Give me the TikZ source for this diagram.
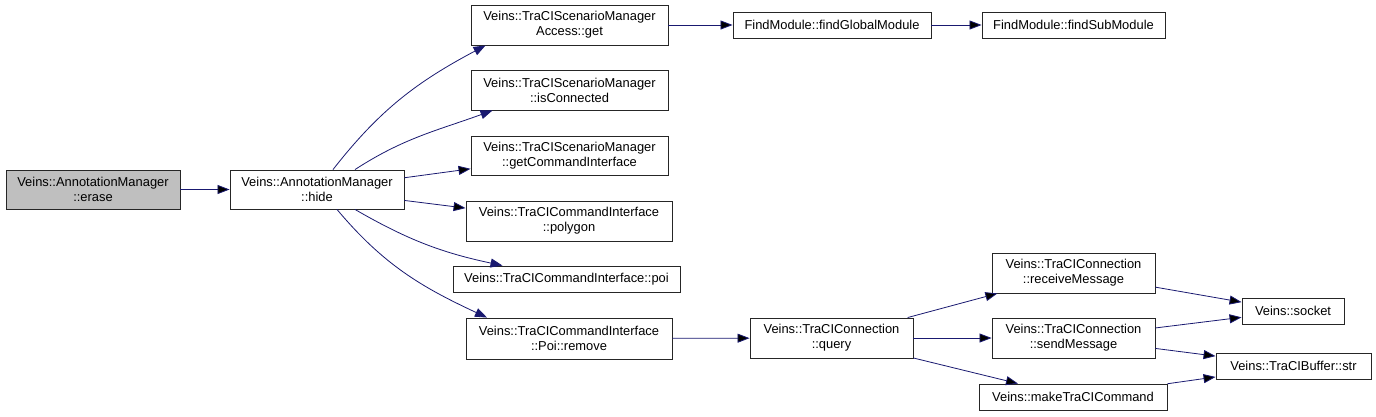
\documentclass[tikz,border=0pt]{standalone}
\usepackage{fontspec}
\setmainfont{Liberation Sans}
\usetikzlibrary{arrows.meta}
\definecolor{edgeblue}{RGB}{25,25,112}
\begin{document}
\begin{tikzpicture}[x=1pt,y=-1pt]
		\tikzset{fn/.style = {shape=rectangle,draw=black!85,line width=0.9pt,fill=white,inner sep=0pt,align=center,font=\fontsize{12.9}{15}\selectfont}}
		\tikzset{call/.style = {-{Triangle[length=12pt,width=9pt]},draw=edgeblue,line width=0.8pt}}
		\useasboundingbox (0,0) rectangle (1376,416);
		\node[fn,fill=black!25,minimum width=174pt,minimum height=39pt] (erase) at (93,189.5) {Veins::AnnotationManager\\::erase};
		\node[fn,minimum width=174pt,minimum height=39pt] (hide) at (317,189.5) {Veins::AnnotationManager\\::hide};
		\node[fn,minimum width=197pt,minimum height=40pt] (get) at (569.5,25) {Veins::TraCIScenarioManager\\Access::get};
		\node[fn,minimum width=197pt,minimum height=40pt] (isconn) at (569.5,90) {Veins::TraCIScenarioManager\\::isConnected};
		\node[fn,minimum width=197pt,minimum height=39pt] (getci) at (569.5,155.5) {Veins::TraCIScenarioManager\\::getCommandInterface};
		\node[fn,minimum width=206pt,minimum height=40pt] (polygon) at (569,221) {Veins::TraCICommandInterface\\::polygon};
		\node[fn,minimum width=227pt,minimum height=26pt] (poi) at (566.5,279) {Veins::TraCICommandInterface::poi};
		\node[fn,minimum width=206pt,minimum height=41pt] (remove) at (569,338.5) {Veins::TraCICommandInterface\\::Poi::remove};
		\node[fn,minimum width=198pt,minimum height=26pt] (global) at (832,25) {FindModule::findGlobalModule};
		\node[fn,minimum width=183pt,minimum height=26pt] (sub) at (1073.5,25) {FindModule::findSubModule};
		\node[fn,minimum width=163pt,minimum height=40pt] (query) at (831.5,338) {Veins::TraCIConnection\\::query};
		\node[fn,minimum width=163pt,minimum height=40pt] (recv) at (1073.5,273) {Veins::TraCIConnection\\::receiveMessage};
		\node[fn,minimum width=163pt,minimum height=40pt] (send) at (1073.5,338) {Veins::TraCIConnection\\::sendMessage};
		\node[fn,minimum width=188pt,minimum height=26pt] (make) at (1073,397) {Veins::makeTraCICommand};
		\node[fn,minimum width=102pt,minimum height=26pt] (socket) at (1293,311) {Veins::socket};
		\node[fn,minimum width=155pt,minimum height=26pt] (str) at (1293.5,366) {Veins::TraCIBuffer::str};
		\path[call] (erase) edge (hide);
		\draw[call] ([xshift=16pt]hide.north) to[out=52,in=208] ([xshift=-84pt]get.south);
		\draw[call] ([xshift=38pt]hide.north) to[out=33,in=200] ([xshift=-77pt]isconn.south);
		\path[call] (hide) edge (getci);
		\path[call] (hide) edge (polygon);
		\draw[call] ([xshift=38pt]hide.south) to[out=-30,in=168] ([xshift=-64pt]poi.north);
		\draw[call] ([xshift=20pt]hide.south) to[out=-50,in=155] ([xshift=-82pt]remove.north);
		\path[call] (get) edge (global);
		\path[call] (global) edge (sub);
		\path[call] (remove) edge (query);
		\path[call] (query) edge (recv);
		\path[call] (query) edge (send);
		\path[call] (query) edge (make);
		\path[call] (recv) edge (socket);
		\path[call] (send) edge (socket);
		\path[call] (send) edge (str);
		\path[call] (make) edge (str);
	\end{tikzpicture}
\end{document}
